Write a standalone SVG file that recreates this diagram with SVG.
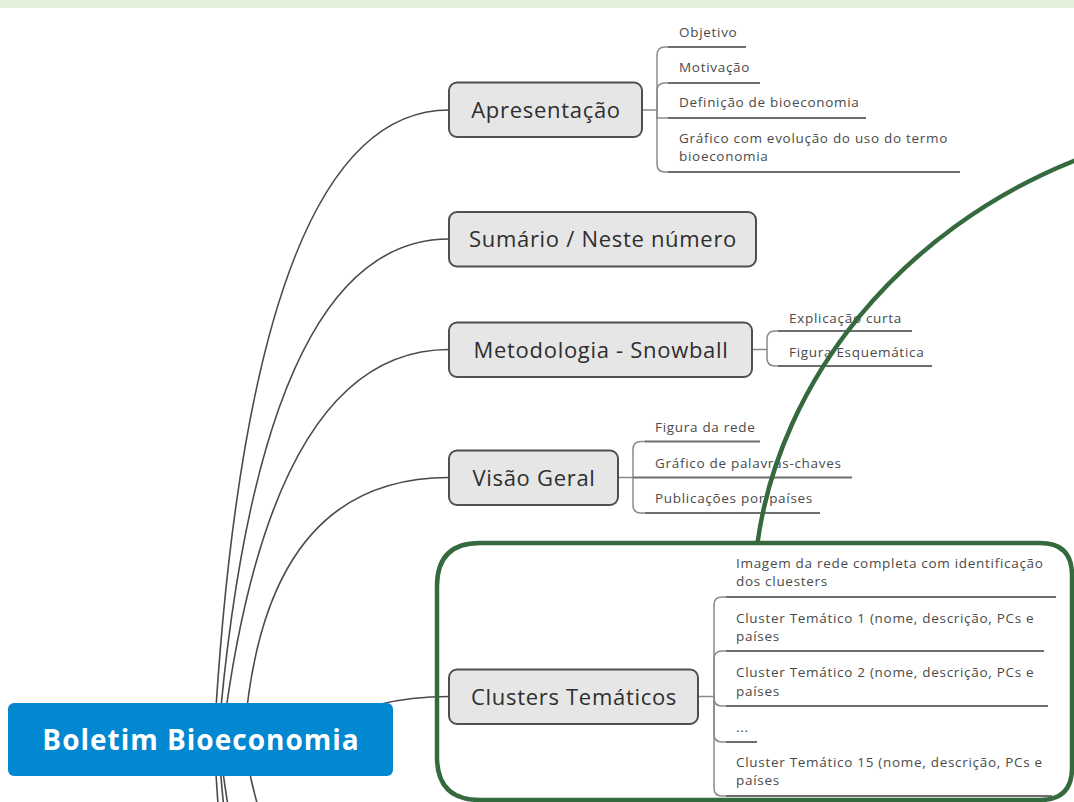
<svg xmlns="http://www.w3.org/2000/svg" width="1074" height="802" viewBox="0 0 1074 802">
<style>
.conn{fill:none;stroke:#4a4a4a;stroke-width:1.6}
.brk{fill:none;stroke:#8a8a8a;stroke-width:1.5}
.ul{fill:none;stroke:#6e6e6e;stroke-width:2}
.topic{fill:#e6e6e6;stroke:#4f4f4f;stroke-width:2}
.tt{font-family:"Open Sans","Noto Sans",sans-serif;font-size:22px;letter-spacing:0.7px;fill:#2e2e2e;text-anchor:middle}
.st{font-family:"Open Sans","Noto Sans",sans-serif;font-size:13.5px;letter-spacing:0.7px;fill:#4a4a4a}
.root{fill:#0288d1}
.rt{font-family:"Open Sans","Noto Sans",sans-serif;font-size:28px;letter-spacing:1px;font-weight:bold;fill:#ffffff;text-anchor:middle}
.ann{fill:none;stroke:#356a3e;stroke-width:4.5}
</style>
<rect x="0" y="0" width="1074" height="802" fill="#ffffff"/>
<rect x="0" y="0" width="1074" height="8" fill="#e2efda"/>
<g id="connectors">
<path class="conn" d="M214 740 Q250 110 449 110"/>
<path class="conn" d="M218 740 Q260 239 449 239"/>
<path class="conn" d="M222 740 Q270 349.5 449 349.5"/>
<path class="conn" d="M244 740 Q262 477.5 449 477.5"/>
<path class="conn" d="M300 735 C360 705 400 696.5 449 696.5"/>
<path class="conn" d="M214 740 Q250 1400 449 1400"/>
<path class="conn" d="M218 740 Q255 1250 449 1250"/>
<path class="conn" d="M219 740 Q262 1120 449 1120"/>
<path class="conn" d="M244 740 Q275 960 449 960"/>
<path class="brk" d="M642 110 H657 V55 Q657 47 665 47 H669"/>
<path class="brk" d="M657 110 V91 Q657 83 665 83 H669"/>
<path class="brk" d="M657 110 V118 Q657 118 665 118 H669"/>
<path class="brk" d="M657 110 V164 Q657 172 665 172 H669"/>
<path class="brk" d="M752 349.5 H767 V339 Q767 331 775 331 H779"/>
<path class="brk" d="M767 349.5 V358 Q767 366 775 366 H779"/>
<path class="brk" d="M618 477.5 H633 V449.5 Q633 441.5 641 441.5 H646"/>
<path class="brk" d="M633 477.5 V505 Q633 513 641 513 H646"/>
<path class="brk" d="M698 696.5 H714 V605 Q714 597 722 597 H727"/>
<path class="brk" d="M714 696.5 V659 Q714 651 722 651 H727"/>
<path class="brk" d="M714 696.5 V698 Q714 706 722 706 H727"/>
<path class="brk" d="M714 696.5 V734 Q714 742 722 742 H727"/>
<path class="brk" d="M714 696.5 V788 Q714 796 722 796 H727"/>
</g>
<g id="node-root">
<rect class="root" x="8" y="703" width="385" height="73" rx="6"/>
<text class="rt" x="201" y="750">Boletim Bioeconomia</text>
</g>
<g id="node-apresentacao">
<rect class="topic" x="449" y="82.5" width="193" height="54.5" rx="8"/>
<text class="tt" x="546" y="117.5">Apresentação</text>
</g>
<g id="node-sumario">
<rect class="topic" x="449" y="212" width="307" height="54.5" rx="8"/>
<text class="tt" x="603" y="247">Sumário / Neste número</text>
</g>
<g id="node-metodologia">
<rect class="topic" x="449" y="322.5" width="303" height="54.5" rx="8"/>
<text class="tt" x="601" y="357.5">Metodologia - Snowball</text>
</g>
<g id="node-visao">
<rect class="topic" x="449" y="450.5" width="169" height="54.5" rx="8"/>
<text class="tt" x="534" y="485.5">Visão Geral</text>
</g>
<g id="node-clusters">
<rect class="topic" x="449" y="669.5" width="249" height="54.5" rx="8"/>
<text class="tt" x="574" y="704.5">Clusters Temáticos</text>
</g>
<g id="sub-objetivo"><text class="st" x="679" y="37">Objetivo</text><path class="ul" d="M668 47 H746"/></g>
<g id="sub-motivacao"><text class="st" x="679" y="72">Motivação</text><path class="ul" d="M668 83 H760"/></g>
<g id="sub-definicao"><text class="st" x="679" y="107">Definição de bioeconomia</text><path class="ul" d="M668 118 H866"/></g>
<g id="sub-grafico-termo"><text class="st" x="679" y="143">Gráfico com evolução do uso do termo</text><text class="st" x="679" y="161">bioeconomia</text><path class="ul" d="M668 172 H960"/></g>
<g id="sub-explicacao"><text class="st" x="789" y="322.5">Explicação curta</text><path class="ul" d="M778 331 H912"/></g>
<g id="sub-figura-esq"><text class="st" x="789" y="357">Figura Esquemática</text><path class="ul" d="M778 366 H932"/></g>
<g id="sub-figura-rede"><text class="st" x="655" y="432">Figura da rede</text><path class="ul" d="M645 441.5 H760"/></g>
<g id="sub-palavras"><text class="st" x="655" y="468">Gráfico de palavras-chaves</text><path class="ul" d="M633 477.5 H852"/></g>
<g id="sub-publicacoes"><text class="st" x="655" y="503">Publicações por países</text><path class="ul" d="M645 513 H820"/></g>
<g id="sub-imagem-rede"><text class="st" x="736" y="568">Imagem da rede completa com identificação</text><text class="st" x="736" y="586">dos cluesters</text><path class="ul" d="M726 597 H1056"/></g>
<g id="sub-cluster1"><text class="st" x="736" y="623">Cluster Temático 1 (nome, descrição, PCs e</text><text class="st" x="736" y="641">países</text><path class="ul" d="M726 651 H1044"/></g>
<g id="sub-cluster2"><text class="st" x="736" y="677">Cluster Temático 2 (nome, descrição, PCs e</text><text class="st" x="736" y="696">países</text><path class="ul" d="M726 706 H1048"/></g>
<g id="sub-ellipsis"><text class="st" x="736" y="732">...</text><path class="ul" d="M726 742 H757"/></g>
<g id="sub-cluster15"><text class="st" x="736" y="767">Cluster Temático 15 (nome, descrição, PCs e</text><text class="st" x="736" y="785">países</text><path class="ul" d="M726 796 H1052"/></g>
<g id="annotation">
<path class="ann" d="M1076 160 C900 230 780 380 757.5 543"/>
<path class="ann" d="M480 543 H1040 Q1072 543 1072 575 V768 Q1072 800 1040 800 H480 Q437 800 437 757 V586 Q437 543 480 543 Z"/>
</g>
</svg>
